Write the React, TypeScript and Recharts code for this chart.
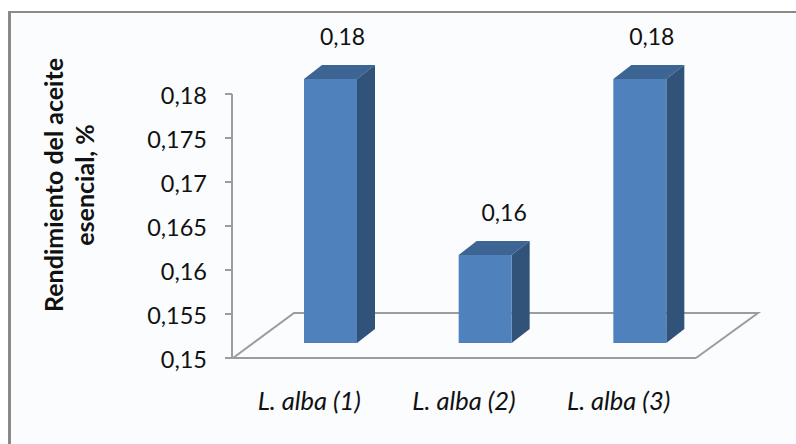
import React from "react";
import { BarChart, Bar, XAxis, YAxis, Customized, LabelList } from "recharts";

const categories = ["L. alba (1)", "L. alba (2)", "L. alba (3)"];
const yields = [0.18, 0.16, 0.18];
const labelShifts = [33, 40, 33];
const yTicks = [0.15, 0.155, 0.16, 0.165, 0.17, 0.175, 0.18];
const titleLines = ["Rendimiento del aceite", "esencial, %"];

const rows = categories.map((name, i) => ({ name, value: yields[i] }));

const WIDTH = 796;
const HEIGHT = 444;
const FONT = "Lato, 'Open Sans', sans-serif";
const AXIS_GREY = "#9c9c9c";
const PLOT = { left: 232, right: 696, top: 94, bottom: 358 };
// Perspective of the floor, and where each column stands on it.
const FLOOR_DEPTH = { x: 61, y: 45 };
const COLUMN_SHIFT = { x: 21, y: -15 };
const COLUMN_DEPTH = { x: 18, y: 14 };

const comma = (v: number | string) => String(v).replace(".", ",");

function Floor() {
  const { left, right, bottom } = PLOT;
  const d = FLOOR_DEPTH;
  return (
    <path
      d={`M${left + 1} ${bottom}L${left + 1 + d.x} ${bottom - d.y}L${right + d.x + 1} ${bottom - d.y}L${right} ${bottom}`}
      fill="none"
      stroke={AXIS_GREY}
      strokeWidth={2}
    />
  );
}

function Column(props: any) {
  const { x, y, width, height } = props;
  const fx = x + COLUMN_SHIFT.x;
  const fy = y + COLUMN_SHIFT.y;
  const dx = COLUMN_DEPTH.x;
  const dy = COLUMN_DEPTH.y;
  return (
    <g>
      <path d={`M${fx} ${fy}L${fx + dx} ${fy - dy}L${fx + width + dx} ${fy - dy}L${fx + width} ${fy}Z`} fill="#3d6593" />
      <path
        d={`M${fx + width} ${fy}L${fx + width + dx} ${fy - dy}L${fx + width + dx} ${fy + height - dy}L${fx + width} ${fy + height}Z`}
        fill="#325379"
      />
      <rect x={fx} y={fy} width={width} height={height} fill="#4f81bd" />
    </g>
  );
}

function ValueLabel(props: any) {
  const { x, y, width, index, value } = props;
  return (
    <text
      x={x + width / 2 + labelShifts[index]}
      y={y - 49}
      textAnchor="middle"
      fontFamily={FONT}
      fontSize={23}
      fill="#111"
    >
      {comma(Number(value).toFixed(2))}
    </text>
  );
}

function AxisTitle() {
  return (
    <text
      transform="translate(63,185) rotate(-90)"
      textAnchor="middle"
      fontFamily={FONT}
      fontSize={25}
      fontWeight={700}
      fill="#111"
    >
      <tspan x={0} dy={0}>{titleLines[0]}</tspan>
      <tspan x={0} dy={31}>{titleLines[1]}</tspan>
    </text>
  );
}

export default function App() {
  return (
    <div
      style={{
        position: "absolute",
        left: 0,
        top: 0,
        width: WIDTH,
        height: HEIGHT,
        overflow: "hidden",
        background: "#ffffff",
      }}
    >
      <div
        style={{
          position: "absolute",
          left: 8,
          top: 11,
          width: WIDTH,
          height: HEIGHT,
          background: "#fbfcfe",
          borderLeft: "3px solid #8a8a8a",
          borderTop: "2px solid #8a8a8a",
        }}
      />
      <BarChart
        width={WIDTH}
        height={HEIGHT}
        data={rows}
        margin={{ top: PLOT.top, right: WIDTH - PLOT.right, bottom: 26, left: 0 }}
        style={{ position: "absolute", left: 0, top: 0 }}
      >
        <XAxis
          dataKey="name"
          height={HEIGHT - PLOT.bottom - 26}
          tickLine={false}
          axisLine={{ stroke: AXIS_GREY, strokeWidth: 2 }}
          tickMargin={28}
          tick={{ fontFamily: FONT, fontSize: 25.5, fontStyle: "italic", fill: "#111" }}
          interval={0}
        />
        <YAxis
          domain={[0.15, 0.18]}
          ticks={yTicks}
          width={PLOT.left}
          interval={0}
          tickFormatter={comma}
          tickSize={7}
          tickMargin={18}
          axisLine={{ stroke: AXIS_GREY, strokeWidth: 2 }}
          tickLine={{ stroke: AXIS_GREY, strokeWidth: 2 }}
          tick={{ fontFamily: FONT, fontSize: 23.5, fill: "#111", dy: 2 }}
        />
        <Customized component={Floor} />
        <Bar dataKey="value" barSize={53} shape={Column} isAnimationActive={false}>
          <LabelList dataKey="value" content={ValueLabel} />
        </Bar>
        <Customized component={AxisTitle} />
      </BarChart>
    </div>
  );
}
